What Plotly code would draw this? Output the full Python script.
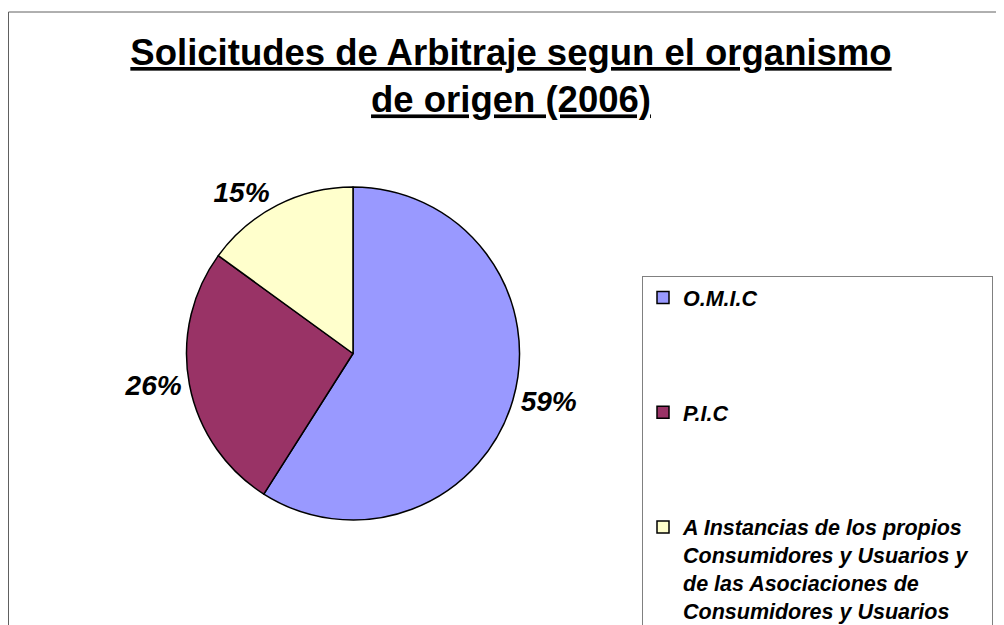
import plotly.graph_objects as go

NB = "\u00a0"
categories = [
    "O.M.I.C<br> <br> <br> ",
    "P.I.C<br> <br> <br> ",
    "A Instancias de los propios<br>Consumidores y Usuarios y" + NB * 3
    + "<br>de las Asociaciones de<br>Consumidores y Usuarios",
]
values = [59, 26, 15]
colors = ["#9999FF", "#993366", "#FFFFCC"]
title_lines = ["Solicitudes de Arbitraje segun el organismo", "de origen (2006)"]

W, H = 1004, 625
OFF = 8  # page body margin offset
FONT = "Arial, 'Liberation Sans', sans-serif"


def px_x(x):
    return (x - OFF) / W


def px_y(y):
    return 1 - (y - OFF) / H


fig = go.Figure(
    go.Pie(
        labels=categories,
        values=values,
        sort=False,
        direction="clockwise",
        rotation=0,
        marker=dict(colors=colors, line=dict(color="black", width=1.5)),
        textposition="outside",
        texttemplate="%{percent:.0%}",
        textfont=dict(family=FONT, size=28, color="black", weight="bold", style="italic"),
        domain=dict(x=[px_x(186.5), px_x(519.5)], y=[px_y(520), px_y(187)]),
        hoverinfo="label+percent",
    )
)

fig.update_layout(
    width=W,
    height=H,
    paper_bgcolor="white",
    plot_bgcolor="white",
    margin=dict(l=0, r=0, t=0, b=0, autoexpand=False),
    title=dict(
        text="<br>".join(f"<u>{t}</u>" for t in title_lines),
        font=dict(family=FONT, size=36.5, color="black", weight="bold"),
        x=px_x(511),
        xanchor="center",
        xref="paper",
        y=1 - 57 / H,
        yanchor="top",
        yref="container",
    ),
    showlegend=True,
    legend=dict(
        x=px_x(642),
        y=px_y(276),
        xanchor="left",
        yanchor="top",
        bgcolor="white",
        bordercolor="#808080",
        borderwidth=1,
        valign="top",
        font=dict(family=FONT, size=21.5, color="black", weight="bold", style="italic"),
    ),
    shapes=[
        dict(
            type="rect",
            xref="paper",
            yref="paper",
            x0=0.5 / W,
            x1=1.02,
            y0=-0.02,
            y1=px_y(12),
            line=dict(color="#606060", width=1),
            fillcolor="rgba(0,0,0,0)",
            layer="below",
        )
    ],
)

fig.write_html("out.html")
